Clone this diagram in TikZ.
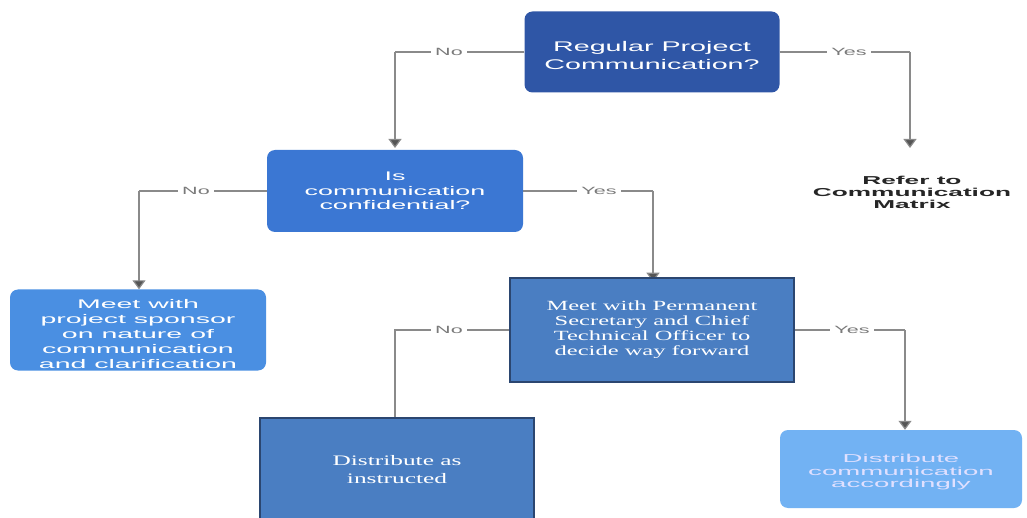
\documentclass[tikz,border=0pt]{standalone}
\usepackage{fontspec}
\usetikzlibrary{arrows.meta,backgrounds}
\newfontfamily\flowsans[FakeStretch=2.05]{Liberation Sans}
\newfontfamily\flowsansB[FakeStretch=2.15]{Liberation Sans}
\newfontfamily\flowsansC[FakeStretch=2.28]{Liberation Sans}
\newfontfamily\flowsansD[FakeStretch=2.4]{Liberation Sans}
\newfontfamily\flowserif[FakeStretch=1.75]{Liberation Serif}
\definecolor{navyA}{HTML}{2F56A6}
\definecolor{blueB}{HTML}{3B77D3}
\definecolor{blueC}{HTML}{4A8FE2}
\definecolor{steelD}{HTML}{4A7EC2}
\definecolor{edgeD}{HTML}{2B4670}
\definecolor{skyE}{HTML}{72B2F3}
\definecolor{linegray}{HTML}{8A8A8A}
\definecolor{tipgray}{HTML}{555555}
\definecolor{labelgray}{HTML}{7A7A7A}
\tikzset{
  roundbox/.style={rounded corners=8pt, inner sep=0pt, align=center, text=white},
  squarebox/.style={draw=edgeD, line width=2.5pt, fill=steelD, inner sep=0pt, align=center, text=white, font=\flowserif\fontsize{14}{15}\selectfont},
  link/.style={draw=linegray, line width=1.2pt},
  arrowlink/.style={link, -{Triangle[width=13pt,length=9pt,fill=tipgray]}},
  answer/.style={fill=white, inner sep=4pt, text=labelgray, font=\flowsans\fontsize{10.5}{12}\selectfont}
}
\begin{document}
\begin{tikzpicture}[x=1pt,y=-1pt]
\useasboundingbox (0,0) rectangle (1027,518);
\clip (0,0) rectangle (1027,518);

% decision and action boxes
\node[roundbox, fill=navyA, minimum width=255pt, minimum height=81pt, font=\flowsans\fontsize{14}{18}\selectfont] (q1) at (652,52) {\rule{0pt}{18pt}Regular Project\\Communication?};
\node[roundbox, fill=blueB, minimum width=256pt, minimum height=82pt, font=\flowsansB\fontsize{12.5}{14.5}\selectfont] (q2) at (395,191) {Is\\communication\\confidential?};
\node[roundbox, fill=blueC, minimum width=256pt, minimum height=81pt, font=\flowsansC\fontsize{12.5}{15}\selectfont] (sponsor) at (138,330) {\rule{0pt}{17pt}Meet with\\project sponsor\\on nature of\\communication\\and clarification};
\node[roundbox, fill=skyE, minimum width=242pt, minimum height=78pt, text=white!88!blue, font=\flowsansD\fontsize{11.5}{12.5}\selectfont] (accord) at (901,469) {\rule{0pt}{14.5pt}Distribute\\communication\\accordingly};
\node[align=center, text=black!85, font=\flowsansC\bfseries\fontsize{11.5}{12}\selectfont] (matrix) at (912,192) {Refer to\\Communication\\Matrix};
\node[squarebox, minimum width=284pt, minimum height=104pt] (meet) at (652,330) {Meet with Permanent\\Secretary and Chief\\Technical Officer to\\decide way forward};
\node[squarebox, minimum width=274pt, minimum height=112pt, font=\flowserif\fontsize{14.5}{18}\selectfont] (distrib) at (397,474) {Distribute as\\instructed\\[-8pt]\mbox{}};

% branch points of the connectors
\coordinate (n1) at (395,52);
\coordinate (y1) at (910,52);
\coordinate (n2) at (139,191);
\coordinate (y2) at (653,191);
\coordinate (n4) at (395,330);
\coordinate (y4) at (905,330);

% connectors sit behind the boxes
\begin{pgfonlayer}{background}
\draw[link] (q1.west) -- (n1);
\draw[arrowlink] (n1) -- (395,148);
\draw[link] (q1.east) -- (y1);
\draw[arrowlink] (y1) -- (910,148);
\draw[link] (q2.west) -- (n2);
\draw[arrowlink] (n2) -- (sponsor.north -| n2);
\draw[link] (q2.east) -- (y2);
\draw[arrowlink] (y2) -- ([yshift=-5pt]meet.north -| y2);
\draw[link] (meet.west) -- (n4) -- (distrib.north -| n4);
\draw[link] (meet.east) -- (y4);
\draw[arrowlink] (y4) -- (accord.north -| y4);

% answer labels on the connectors
\node[answer] (a1) at (449,52) {No};
\node[answer] (a2) at (849,52) {Yes};
\node[answer] (a3) at (196,191) {No};
\node[answer] (a4) at (599,191) {Yes};
\node[answer] (a5) at (449,330) {No};
\node[answer] (a6) at (852,330) {Yes};
\end{pgfonlayer}
\end{tikzpicture}
\end{document}
